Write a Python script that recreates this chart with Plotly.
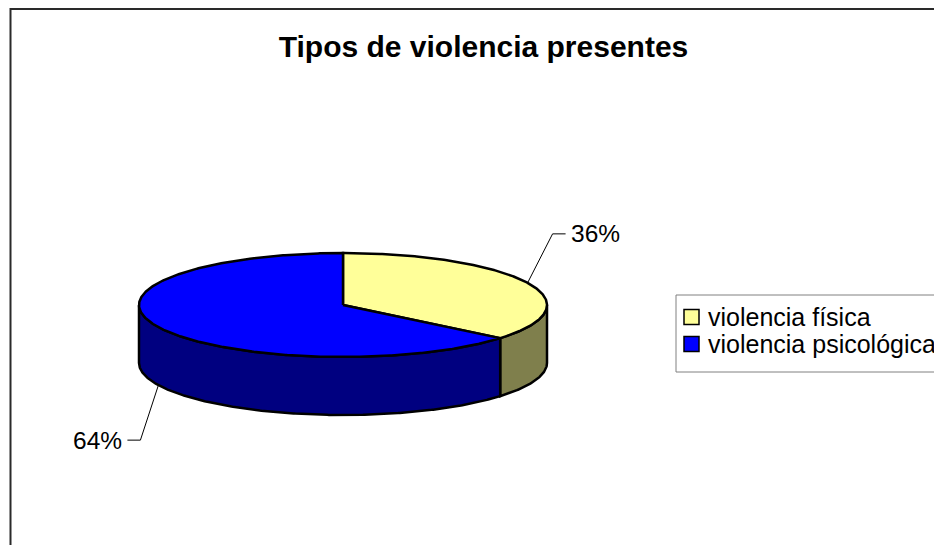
import numpy as np
import plotly.graph_objects as go

# ---- data ----
categories = ["violencia física", "violencia psicológica"]
values = [36, 64]
top_colors = ["#FFFF99", "#0000FF"]
side_colors = ["#7F7F4C", "#000080"]
title_text = "Tipos de violencia presentes"

# ---- layout constants (pixel space of the reference) ----
W, H = 942, 545
OFF = 8                    # page body margin offset
CX, CY = 343, 305          # pie centre
RX, RY = 204, 52           # ellipse radii
DEPTH = 58                 # pie thickness
FONT = "Liberation Sans, Arial, sans-serif"
LABEL_ELBOW = [(25, -49), (-18, 55)]
TAIL = 13
EDGE_W = 2.5

def pt(theta_deg, dz=0.0):
    t = np.radians(theta_deg)
    return CX + RX * np.sin(t), CY - RY * np.cos(t) + dz

total = float(sum(values))
fracs = [v / total for v in values]
starts = np.concatenate([[0.0], np.cumsum(fracs)[:-1]]) * 360.0
ends = np.cumsum(fracs) * 360.0

fig = go.Figure()

# sides (front half only: 90..270 deg clockwise from top)
for i in range(len(values)):
    lo, hi = max(starts[i], 90.0), min(ends[i], 270.0)
    if lo < hi:
        th = np.linspace(lo, hi, max(int((hi - lo) * 2), 4))
        xt, yt = pt(th)
        xb, yb = pt(th[::-1], DEPTH)
        xs = np.concatenate([xt, xb, xt[:1]])
        ys = np.concatenate([yt, yb, yt[:1]])
        fig.add_trace(go.Scatter(x=xs, y=ys, mode="lines", fill="toself",
                                 fillcolor=side_colors[i],
                                 line=dict(color="black", width=EDGE_W),
                                 hoverinfo="skip", showlegend=False))

# tops
for i in range(len(values)):
    th = np.linspace(starts[i], ends[i], max(int((ends[i] - starts[i]) * 2), 4))
    xa, ya = pt(th)
    xs = np.concatenate([[CX], xa, [CX]])
    ys = np.concatenate([[CY], ya, [CY]])
    fig.add_trace(go.Scatter(x=xs, y=ys, mode="lines", fill="toself",
                             fillcolor=top_colors[i],
                             line=dict(color="black", width=EDGE_W),
                             hoverinfo="skip", showlegend=False))

# labels with leader lines
for i in range(len(values)):
    mid = (starts[i] + ends[i]) / 2.0
    front = np.cos(np.radians(mid)) < 0
    x0, y0 = pt(mid, DEPTH if front else 0.0)
    dx, dy = LABEL_ELBOW[i]
    x1, y1 = x0 + dx, y0 + dy
    sgn = 1 if dx > 0 else -1
    x2 = x1 + sgn * TAIL
    fig.add_trace(go.Scatter(x=[x0, x1, x2], y=[y0, y1, y1], mode="lines",
                             line=dict(color="black", width=1),
                             hoverinfo="skip", showlegend=False))
    fig.add_annotation(x=x2 + sgn * 3, y=y1, xref="x", yref="y",
                       text=f"{round(fracs[i] * 100)}%", showarrow=False,
                       xanchor="left" if sgn > 0 else "right", yanchor="middle",
                       font=dict(family=FONT, size=24.5, color="black"))

# legend (drawn manually)
LEG_X, LEG_Y0, LEG_Y1 = 676, 295, 372
shapes = [
    dict(type="rect", xref="x", yref="y", x0=10.5, y0=9, x1=W + 50, y1=H + 50,
         line=dict(color="#2a2a2a", width=2), fillcolor="rgba(0,0,0,0)", layer="below"),
    dict(type="rect", xref="x", yref="y", x0=LEG_X, y0=LEG_Y0, x1=W + 50, y1=LEG_Y1,
         line=dict(color="#808080", width=1), fillcolor="rgba(0,0,0,0)"),
]
row_y = [317, 344]
for i, cat in enumerate(categories):
    yc = row_y[i]
    shapes.append(dict(type="rect", xref="x", yref="y", x0=684, x1=699,
                       y0=yc - 7.5, y1=yc + 7.5,
                       line=dict(color="black", width=1.5), fillcolor=top_colors[i]))
    fig.add_annotation(x=706, y=yc, xref="x", yref="y", text=cat, showarrow=False,
                       xanchor="left", yanchor="middle",
                       font=dict(family=FONT, size=25, color="black"))

fig.update_layout(
    width=W, height=H,
    margin=dict(l=0, r=0, t=0, b=0),
    paper_bgcolor="white", plot_bgcolor="white",
    shapes=shapes,
    title=dict(text=f"<b>{title_text}</b>", x=(483.5 - OFF) / W, y=1 - (46 - OFF) / H,
               xanchor="center", yanchor="middle",
               font=dict(family=FONT, size=30, color="black")),
    xaxis=dict(range=[OFF, W + OFF], visible=False, fixedrange=True),
    yaxis=dict(range=[H + OFF, OFF], visible=False, fixedrange=True),
    showlegend=False,
)

fig.write_html("out.html")
